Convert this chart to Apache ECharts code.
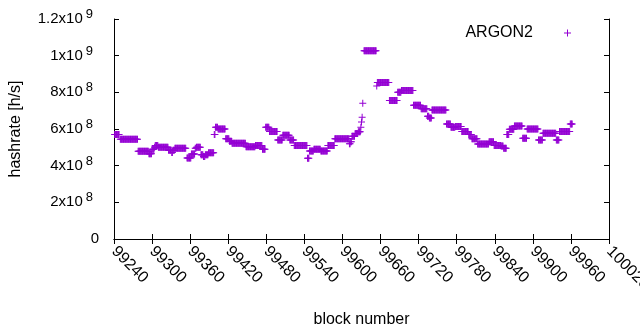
<!DOCTYPE html>
<html>
<head>
<meta charset="utf-8">
<script src="https://cdn.jsdelivr.net/npm/echarts@6/dist/echarts.min.js"></script>
<style>
  html, body { margin:0; padding:0; background:#fff; }
  #chart { width:640px; height:330px; }
</style>
</head>
<body>
<div id="chart"></div>
<script>
// plateaus: first block, last block, hashrate in 1e8 h/s
const segStart = [99241,99250,99278,99295,99300,99304,99305,99310,99326,99331,99333,99336,99355,99362,99368,99370,99377,99381,99384,99389,99398,99400,99404,99416,99422,99426,99448,99463,99474,99479,99485,99498,99506,99517,99524,99545,99548,99555,99566,99577,99588,99611,99613,99615,99620,99625,99629,99630,99631,99632,99634,99654,99655,99674,99687,99693,99712,99724,99734,99737,99741,99764,99771,99778,99788,99799,99804,99813,99831,99839,99850,99854,99859,99863,99871,99884,99891,99909,99916,99937,99942,99959];
const segEnd   = [99248,99277,99294,99299,99303,99304,99309,99325,99330,99332,99335,99353,99361,99367,99369,99376,99380,99383,99388,99397,99399,99403,99415,99421,99425,99447,99462,99473,99478,99484,99497,99505,99516,99523,99544,99547,99554,99565,99576,99587,99610,99612,99614,99619,99624,99628,99629,99630,99631,99632,99653,99654,99673,99686,99692,99711,99723,99733,99736,99740,99763,99770,99777,99787,99798,99803,99812,99830,99838,99849,99853,99858,99862,99870,99883,99890,99908,99915,99936,99941,99958,99962];
const segValue = [5.7,5.44,4.78,4.65,4.9,5.0,5.1,5.0,4.84,4.72,4.84,4.95,4.42,4.64,4.95,5.0,4.6,4.5,4.6,4.7,5.7,6.1,6.0,5.47,5.33,5.22,5.03,5.1,4.9,6.1,5.87,5.4,5.66,5.4,5.1,4.4,4.8,4.9,4.8,5.1,5.47,5.2,5.3,5.6,5.75,5.85,6.1,6.38,6.64,7.4,10.27,8.35,8.53,7.55,8.0,8.1,7.3,7.1,6.7,6.6,7.04,6.27,6.1,6.13,5.86,5.7,5.47,5.18,5.3,5.1,5.07,4.95,5.7,5.98,6.16,5.5,6.0,5.4,5.77,5.4,5.87,6.27];

const yTickMant = ['0','2x10','4x10','6x10','8x10','1x10','1.2x10'];
const yTickExp  = ['','8','8','8','8','9','9'];

const points = [];
segStart.forEach((s, i) => {
    for (let b = s; b <= segEnd[i]; b++) points.push([b, segValue[i] * 1e8]);
});

const PLUS = 'path://M3,0h1v3h3v1h-3v3h-1v-3h-3v-1h3z';
const FONT = 'Liberation Sans';
const C = '#9400d3';

const chart = echarts.init(document.getElementById('chart'));
chart.setOption({
    animation: false,
    backgroundColor: '#fff',
    textStyle: { fontFamily: FONT },
    grid: { left:114, right:31, top:19, bottom:91, containLabel:false, outerBoundsMode:'none' },
    legend: {
        data: ['ARGON2'], right: 64, top: 20, align: 'right',
        icon: PLUS, itemWidth: 7, itemHeight: 7,
        textStyle: { fontFamily: FONT, fontSize: 16, color: '#000', padding: [0, 26, 0, 0] }
    },
    xAxis: [{
        type:'value', min:99240, max:100020, interval:60,
        name:'block number', nameLocation:'middle', nameGap:73,
        nameTextStyle:{ fontFamily:FONT, fontSize:16, color:'#000' },
        axisLine:{ lineStyle:{ color:'#000', width:1 } },
        axisTick:{ inside:true, length:5, lineStyle:{ color:'#000' } },
        axisLabel:{ rotate:-45, margin:10, color:'#000', fontFamily:FONT, fontSize:16,
            showMaxLabel:true, formatter: v => String(v) },
        splitLine:{ show:false }
    }, {
        type:'value', position:'top', min:99240, max:100020, interval:60,
        axisLine:{ lineStyle:{ color:'#000', width:1 } },
        axisTick:{ inside:true, length:5, lineStyle:{ color:'#000' } },
        axisLabel:{ show:false }, splitLine:{ show:false }
    }],
    yAxis: [{
        type:'value', min:0, max:1.2e9, interval:2e8,
        name:'hashrate [h/s]', nameLocation:'middle', nameGap:90,
        nameTextStyle:{ fontFamily:FONT, fontSize:16, color:'#000' },
        axisLine:{ show:true, lineStyle:{ color:'#000', width:1 } },
        axisTick:{ show:true, inside:true, length:5, lineStyle:{ color:'#000' } },
        axisLabel:{
            margin:15, color:'#000',
            formatter: v => {
                const i = Math.round(v / 2e8);
                return yTickExp[i] ? '{m|' + yTickMant[i] + '}{e|' + yTickExp[i] + '}' : '{m|' + yTickMant[i] + '}';
            },
            rich: {
                m: { fontFamily:FONT, fontSize:15, color:'#000' },
                e: { fontFamily:FONT, fontSize:13, color:'#000', padding:[0,6,9,3] }
            }
        },
        splitLine:{ show:false }
    }, {
        type:'value', position:'right', min:0, max:1.2e9, interval:2e8,
        axisLine:{ show:true, lineStyle:{ color:'#000', width:1 } },
        axisTick:{ show:true, inside:true, length:5, lineStyle:{ color:'#000' } },
        axisLabel:{ show:false }, splitLine:{ show:false }
    }],
    series: [{
        name:'ARGON2', type:'scatter', data:points,
        symbol:PLUS, symbolSize:7,
        itemStyle:{ color:C, opacity:1 },
        emphasis:{ disabled:true }
    }]
});
</script>
</body>
</html>
